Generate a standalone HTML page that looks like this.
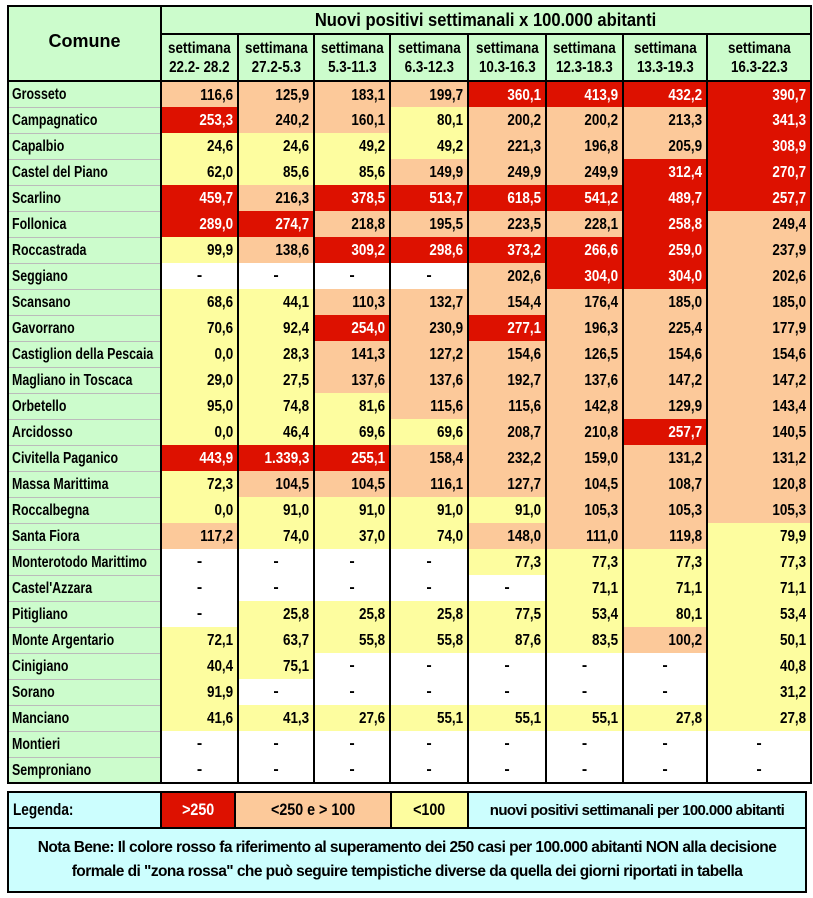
<!DOCTYPE html>
<html><head><meta charset="utf-8"><style>
body{margin:0;width:813px;height:898px;background:#fff;position:relative;overflow:hidden;font-family:"Liberation Sans",Arial,sans-serif;font-weight:bold;color:#000}
table{border-collapse:collapse;table-layout:fixed;position:absolute}
#t{left:7px;top:5px;width:803px}
#t td{padding:0;font-size:16px;border-left:2px solid #000;border-right:2px solid #000;height:26px;text-align:right;padding-right:4px;padding-top:2px;box-sizing:border-box;white-space:nowrap;overflow:hidden}
#t td.n{text-align:left;padding-left:3px;background:#ccfccc;border-bottom:1px solid #bbb;font-size:15.5px}
#t td.d{text-align:center;padding:0}
#t tr.h td{background:#ccfccc;text-align:center;padding:0;border:2px solid #000}
.sr{display:inline-block;transform:scaleX(0.84);transform-origin:right center}
.sl{display:inline-block;transform:scaleX(0.8);transform-origin:left center}
.sc{display:inline-block;transform:scaleX(0.84);transform-origin:center center}
#t .r,#l td.r{background:#dd1100;color:#fff}#t .o,#l td.o{background:#fcc99a}#t .y,#l td.y{background:#fdfd9f}.w{background:#fff}
#t tr.last td{border-bottom:2px solid #000}
#t tr.first td{border-top:2px solid #000}
#l{left:7px;top:791px;width:800px}
#l td{border:2px solid #000;font-size:17px;text-align:center;padding:0;background:#ccfefe;white-space:nowrap;overflow:hidden}
</style></head><body>
<table id="t">
<colgroup><col style="width:153px"><col style="width:77px"><col style="width:76px"><col style="width:76px"><col style="width:78px"><col style="width:78px"><col style="width:77px"><col style="width:84px"><col style="width:104px"></colgroup>
<tr class="h"><td rowspan="2" style="font-size:18px;vertical-align:top;padding-top:24px;height:28px">Comune</td><td colspan="8" style="font-size:18px;height:28px"><span class="sc" style="transform:scaleX(0.92)">Nuovi positivi settimanali x 100.000 abitanti</span></td></tr>
<tr class="h" style="height:47px"><td style="font-size:16px;line-height:19px"><span class="sc">settimana<br>22.2- 28.2</span></td><td style="font-size:16px;line-height:19px"><span class="sc">settimana<br>27.2-5.3</span></td><td style="font-size:16px;line-height:19px"><span class="sc">settimana<br>5.3-11.3</span></td><td style="font-size:16px;line-height:19px"><span class="sc">settimana<br>6.3-12.3</span></td><td style="font-size:16px;line-height:19px"><span class="sc">settimana<br>10.3-16.3</span></td><td style="font-size:16px;line-height:19px"><span class="sc">settimana<br>12.3-18.3</span></td><td style="font-size:16px;line-height:19px"><span class="sc">settimana<br>13.3-19.3</span></td><td style="font-size:16px;line-height:19px"><span class="sc">settimana<br>16.3-22.3</span></td></tr>
<tbody id="b"></tbody>
</table>
<table id="l">
<colgroup><col style="width:153px"><col style="width:74px"><col style="width:156px"><col style="width:77px"><col></colgroup>
<tr style="height:36px"><td style="text-align:left;padding-left:4px"><span class="sl">Legenda:</span></td><td class="r"><span class="sc">&gt;250</span></td><td class="o"><span class="sc">&lt;250 e &gt; 100</span></td><td class="y"><span class="sc">&lt;100</span></td><td style="font-size:15px;letter-spacing:-0.6px">nuovi positivi settimanali per 100.000 abitanti</td></tr>
<tr style="height:64px"><td colspan="5" style="line-height:24px;font-size:15.5px;letter-spacing:-0.55px">Nota Bene: Il colore rosso fa riferimento al superamento dei 250 casi per 100.000 abitanti NON alla decisione<br>formale di "zona rossa" che può seguire tempistiche diverse da quella dei giorni riportati in tabella</td></tr>
</table>
<script>
var D=[["Grosseto","116,6 125,9 183,1 199,7 360,1 413,9 432,2 390,7"],
["Campagnatico","253,3 240,2 160,1 80,1 200,2 200,2 213,3 341,3"],
["Capalbio","24,6 24,6 49,2 49,2 221,3 196,8 205,9 308,9"],
["Castel del Piano","62,0 85,6 85,6 149,9 249,9 249,9 312,4 270,7"],
["Scarlino","459,7 216,3 378,5 513,7 618,5 541,2 489,7 257,7"],
["Follonica","289,0 274,7 218,8 195,5 223,5 228,1 258,8 249,4"],
["Roccastrada","99,9 138,6 309,2 298,6 373,2 266,6 259,0 237,9"],
["Seggiano","- - - - 202,6 304,0 304,0 202,6"],
["Scansano","68,6 44,1 110,3 132,7 154,4 176,4 185,0 185,0"],
["Gavorrano","70,6 92,4 254,0 230,9 277,1 196,3 225,4 177,9"],
["Castiglion della Pescaia","0,0 28,3 141,3 127,2 154,6 126,5 154,6 154,6"],
["Magliano in Toscaca","29,0 27,5 137,6 137,6 192,7 137,6 147,2 147,2"],
["Orbetello","95,0 74,8 81,6 115,6 115,6 142,8 129,9 143,4"],
["Arcidosso","0,0 46,4 69,6 69,6 208,7 210,8 257,7 140,5"],
["Civitella Paganico","443,9 1.339,3 255,1 158,4 232,2 159,0 131,2 131,2"],
["Massa Marittima","72,3 104,5 104,5 116,1 127,7 104,5 108,7 120,8"],
["Roccalbegna","0,0 91,0 91,0 91,0 91,0 105,3 105,3 105,3"],
["Santa Fiora","117,2 74,0 37,0 74,0 148,0 111,0 119,8 79,9"],
["Monterotodo Marittimo","- - - - 77,3 77,3 77,3 77,3"],
["Castel'Azzara","- - - - - 71,1 71,1 71,1"],
["Pitigliano","- 25,8 25,8 25,8 77,5 53,4 80,1 53,4"],
["Monte Argentario","72,1 63,7 55,8 55,8 87,6 83,5 100,2 50,1"],
["Cinigiano","40,4 75,1 - - - - - 40,8"],
["Sorano","91,9 - - - - - - 31,2"],
["Manciano","41,6 41,3 27,6 55,1 55,1 55,1 27,8 27,8"],
["Montieri","- - - - - - - -"],
["Semproniano","- - - - - - - -"]];
var h="";
D.forEach(function(r,i){
 h+='<tr class="'+(i==0?'first':'')+(i==D.length-1?' last':'')+'"><td class="n"><span class="sl">'+r[0]+'</span></td>';
 r[1].split(" ").forEach(function(v){
  if(v=="-"){h+='<td class="w d">-</td>';return;}
  var n=parseFloat(v.replace(".","").replace(",","."));
  var c=n>250?"r":(n>=100?"o":"y");
  h+='<td class="'+c+'"><span class="sr">'+v+'</span></td>';
 });
 h+='</tr>';
});
document.getElementById("b").innerHTML=h;
</script>
</body></html>
